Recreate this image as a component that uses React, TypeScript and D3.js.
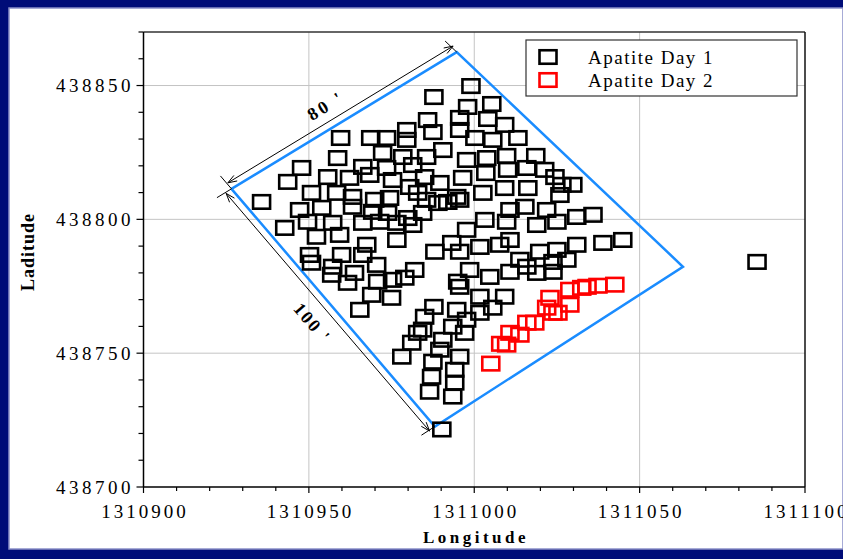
import React from "react";
import * as d3 from "d3";

const xDomain: [number, number] = [1310900, 1311100];
const yDomain: [number, number] = [438700, 438870];
const xTicks = [1310900, 1310950, 1311000, 1311050, 1311100];
const yTicks = [438700, 438750, 438800, 438850];
const gridX = [1310950, 1311000, 1311050];
const gridY = [438750, 438800, 438850];
const seriesNames = ["Apatite Day 1", "Apatite Day 2"];
const seriesColors = ["#000000", "#ff0000"];
const xTitle = "Longitude";
const yTitle = "Laditude";
const dimLabels = ["80 '", "100 '"];

// Apatite Day 1 : [longitude, latitude]
const day1: [number, number][] = [
  [1310999.0, 438849.8], [1310987.8, 438845.7], [1310998.0, 438842.0], [1311005.3, 438843.1],
  [1310985.9, 438837.1], [1310995.6, 438837.9], [1311004.1, 438837.5], [1311009.2, 438835.3],
  [1310979.6, 438833.4], [1310987.5, 438832.6], [1310995.6, 438833.4], [1310959.6, 438830.4],
  [1310968.7, 438830.4], [1310973.5, 438830.4], [1310979.6, 438829.7], [1311000.2, 438830.4],
  [1311005.6, 438829.7], [1311013.2, 438830.4], [1310990.5, 438825.9], [1310972.3, 438824.8],
  [1310958.7, 438822.9], [1310985.6, 438823.3], [1310978.4, 438823.3], [1310997.7, 438822.2],
  [1311003.8, 438822.9], [1311009.8, 438823.7], [1311018.6, 438823.7], [1310947.8, 438819.2],
  [1310966.3, 438819.6], [1310973.5, 438819.2], [1310981.4, 438820.3], [1311003.5, 438817.3],
  [1311010.1, 438818.5], [1311015.9, 438819.2], [1311021.3, 438818.5], [1311024.4, 438815.8],
  [1311026.5, 438812.9], [1311029.8, 438812.9], [1310996.5, 438815.5], [1310989.6, 438813.6],
  [1310985.0, 438815.8], [1310943.6, 438814.0], [1310955.7, 438815.8], [1310962.3, 438815.5],
  [1310968.4, 438816.6], [1310975.3, 438814.7], [1310980.5, 438812.1], [1311002.6, 438809.9],
  [1311009.2, 438811.7], [1311016.2, 438811.7], [1310994.7, 438808.4], [1310992.0, 438806.5],
  [1310935.7, 438806.5], [1310950.8, 438809.9], [1310958.4, 438809.9], [1310963.2, 438808.4],
  [1310969.9, 438807.3], [1310974.4, 438808.0], [1310985.6, 438807.3], [1310982.9, 438809.9],
  [1310989.0, 438806.1], [1310995.6, 438807.3], [1311025.9, 438809.1], [1310947.2, 438803.5],
  [1310953.9, 438804.3], [1310963.2, 438804.7], [1310969.3, 438802.8], [1310973.8, 438802.4],
  [1310984.4, 438802.4], [1311010.8, 438803.5], [1311015.3, 438804.7], [1311021.9, 438803.5],
  [1311031.0, 438800.9], [1311035.9, 438801.7], [1311003.2, 438799.8], [1310979.9, 438800.5],
  [1310942.7, 438796.8], [1310949.6, 438799.1], [1310957.2, 438798.7], [1310966.3, 438798.7],
  [1310971.4, 438799.1], [1310976.6, 438798.7], [1310981.4, 438797.9], [1311018.9, 438797.9],
  [1311025.0, 438799.1], [1311009.8, 438799.1], [1310997.7, 438796.1], [1310952.3, 438793.5],
  [1310959.3, 438794.2], [1310967.5, 438790.5], [1310976.6, 438792.3], [1310993.2, 438791.2],
  [1311010.8, 438792.3], [1311007.7, 438790.5], [1311038.9, 438791.2], [1311044.9, 438792.3],
  [1311031.0, 438790.5], [1311025.0, 438788.6], [1311001.7, 438789.7], [1310995.6, 438787.9],
  [1311019.8, 438787.9], [1311013.8, 438784.9], [1311023.8, 438784.1], [1311028.0, 438784.9],
  [1310988.1, 438787.9], [1310950.2, 438786.7], [1310950.8, 438783.8], [1310957.2, 438782.3],
  [1310959.9, 438786.7], [1310966.3, 438786.7], [1310970.5, 438783.0], [1310963.8, 438780.0],
  [1310956.9, 438779.3], [1310961.7, 438776.3], [1310970.8, 438776.7], [1310969.0, 438771.8],
  [1310975.0, 438770.7], [1310979.0, 438778.2], [1310982.0, 438781.1], [1310965.4, 438766.2],
  [1310987.8, 438767.3], [1310985.0, 438763.6], [1310982.9, 438757.6], [1310981.1, 438753.9],
  [1310978.1, 438748.7], [1310989.6, 438751.3], [1310987.1, 438741.2], [1310986.5, 438735.6],
  [1310990.2, 438721.5], [1310993.5, 438733.8], [1310994.1, 438739.0], [1310994.1, 438743.8],
  [1310987.5, 438746.8], [1310995.6, 438748.7], [1310990.5, 438755.0], [1310984.4, 438758.8],
  [1310993.5, 438759.9], [1310997.1, 438757.6], [1310997.7, 438762.5], [1310994.7, 438766.2],
  [1311001.7, 438765.1], [1311005.6, 438767.0], [1311001.7, 438771.1], [1311009.2, 438771.1],
  [1310995.6, 438774.8], [1310998.6, 438781.1], [1310995.0, 438776.7], [1311004.7, 438778.5],
  [1311010.8, 438780.4], [1311015.9, 438782.3], [1311018.9, 438780.0], [1311023.8, 438780.4],
  [1310975.3, 438777.4], [1311085.5, 438784.1],
];

// Apatite Day 2 : [longitude, latitude]
const day2: [number, number][] = [
  [1311005.0, 438746.1], [1311008.0, 438753.5], [1311009.8, 438753.2], [1311010.8, 438757.6],
  [1311013.8, 438756.9], [1311015.9, 438761.4], [1311018.3, 438761.4], [1311021.9, 438767.0],
  [1311023.8, 438765.1], [1311025.3, 438765.1], [1311022.9, 438770.7], [1311028.9, 438768.1],
  [1311028.9, 438773.7], [1311032.5, 438774.4], [1311034.1, 438774.8], [1311037.4, 438775.2],
  [1311042.5, 438775.6],
];

// Surveyed boundary (left, top, right, bottom corners)
const boundary: [number, number][] = [
  [1310926.6, 438811.4], [1310994.7, 438862.5], [1311063.1, 438782.3], [1310988.1, 438722.6],
];

const W = 843, H = 559;
const SERIF = "'Liberation Serif', 'Times New Roman', serif";
const MW = 17, MH = 13.5;

type Pt = [number, number];
const sub = (a: Pt, b: Pt): Pt => [a[0] - b[0], a[1] - b[1]];
const add = (a: Pt, b: Pt): Pt => [a[0] + b[0], a[1] + b[1]];
const mul = (a: Pt, k: number): Pt => [a[0] * k, a[1] * k];
const unit = (a: Pt, b: Pt): Pt => { const d = sub(b, a); const l = Math.hypot(d[0], d[1]); return [d[0] / l, d[1] / l]; };

function Arrow({ tip, dir }: { tip: Pt; dir: Pt }) {
  const perp: Pt = [-dir[1], dir[0]];
  const base = sub(tip, mul(dir, 9));
  const a = add(base, mul(perp, 3.2));
  const b = sub(base, mul(perp, 3.2));
  return <path d={`M${a[0]},${a[1]}L${tip[0]},${tip[1]}L${b[0]},${b[1]}`} fill="none" stroke="#000" strokeWidth={1} />;
}

export default function App() {
  const x = d3.scaleLinear().domain(xDomain).range([143.5, 805]);
  const y = d3.scaleLinear().domain(yDomain).range([487, 32]);
  const x0 = x(xDomain[0]), x1 = x(xDomain[1]);
  const y0 = y(yDomain[0]), y1 = y(yDomain[1]);
  const xMinor = d3.range(xDomain[0], xDomain[1] + 1, 10);
  const yMinor = d3.range(yDomain[0], yDomain[1] + 1, 10);

  const P = boundary.map(([a, b]) => [x(a), y(b)] as Pt);
  const [L, T, R, B] = P;
  const poly = d3.line()(P.concat([P[0]]) as any) as string;

  const u1 = unit(L, T);
  const n1: Pt = [u1[1], -u1[0]];
  const u2 = unit(L, B);
  const n2: Pt = [-u2[1], u2[0]];
  const off = 7;
  const d1a = add(L, mul(n1, off)), d1b = add(T, mul(n1, off));
  const d2a = add(L, mul(n2, off)), d2b = add(B, mul(n2, off));
  const ext1 = [L, add(L, mul(unit(B, L), 17))];
  const ext2 = [L, add(L, mul(unit(T, L), 17))];
  const ext3 = [T, add(T, mul(unit(R, T), 16))];
  const ext4 = [B, add(B, mul(unit(R, B), 16))];
  const m1 = add(mul(add(L, T), 0.5), add(mul(n1, 22), mul(u1, -8)));
  const m2 = add(mul(add(L, B), 0.5), add(mul(n2, 26), mul(u2, -2)));
  const a1 = (Math.atan2(u1[1], u1[0]) * 180) / Math.PI;
  const a2 = (Math.atan2(u2[1], u2[0]) * 180) / Math.PI;

  const rect = (p: [number, number], i: number, color: string) => (
    <rect key={i} x={x(p[0]) - MW / 2} y={y(p[1]) - MH / 2} width={MW} height={MH}
      fill="none" stroke={color} strokeWidth={2.6} />
  );

  return (
    <svg width={W} height={H} style={{ position: "fixed", left: 0, top: 0 }} fontFamily={SERIF}>
      <rect x={0} y={0} width={W} height={H} fill="#000c78" />
      <rect x={9} y={8} width={W - 9} height={541} fill="#ffffff" stroke="#8a8fc8" strokeWidth={1.5} />

      {gridX.map((v) => <line key={v} x1={x(v)} x2={x(v)} y1={y0} y2={y1} stroke="#c4c4c4" strokeWidth={1} />)}
      {gridY.map((v) => <line key={v} x1={x0} x2={x1} y1={y(v)} y2={y(v)} stroke="#c4c4c4" strokeWidth={1} />)}

      <line x1={x0} x2={x1} y1={y1} y2={y1} stroke="#333" strokeWidth={1.5} />
      <line x1={x1} x2={x1} y1={y1} y2={y0} stroke="#111" strokeWidth={1.5} />
      <line x1={x0} x2={x1} y1={y0} y2={y0} stroke="#000" strokeWidth={1.5} />
      <line x1={x0} x2={x0} y1={y0} y2={y1} stroke="#000" strokeWidth={1.5} />

      {xMinor.map((v) => {
        const major = xTicks.includes(v);
        return <line key={v} x1={x(v)} x2={x(v)} y1={y0} y2={y0 + (major ? 6 : 4)} stroke="#000" strokeWidth={1.2} />;
      })}
      {yMinor.map((v) => {
        const major = yTicks.includes(v);
        return <line key={v} x1={x0} x2={x0 - (major ? 7 : 5)} y1={y(v)} y2={y(v)} stroke="#000" strokeWidth={1.2} />;
      })}

      {xTicks.map((v) => (
        <text key={v} x={x(v) + 1.5} y={518} textAnchor="middle" fontSize={19} letterSpacing={3} fill="#000">{v}</text>
      ))}
      {yTicks.map((v) => (
        <text key={v} x={134} y={y(v) + 6.5} textAnchor="end" fontSize={19} letterSpacing={3.5} fill="#000">{v}</text>
      ))}

      <text x={476} y={543} textAnchor="middle" fontSize={17} fontWeight="bold" letterSpacing={3.5} fill="#000">{xTitle}</text>
      <text transform={`translate(34,252) rotate(-90)`} textAnchor="middle" fontSize={18} fontWeight="bold" letterSpacing={1} fill="#000">{yTitle}</text>

      {/* boundary */}
      <path d={poly} fill="none" stroke="#1a8cff" strokeWidth={2.5} strokeLinejoin="miter" />

      {/* dimension lines */}
      {[ext1, ext2, ext3, ext4].map((e, i) => (
        <line key={i} x1={e[0][0]} y1={e[0][1]} x2={e[1][0]} y2={e[1][1]} stroke="#000" strokeWidth={1} />
      ))}
      <line x1={d1a[0]} y1={d1a[1]} x2={d1b[0]} y2={d1b[1]} stroke="#000" strokeWidth={1} />
      <line x1={d2a[0]} y1={d2a[1]} x2={d2b[0]} y2={d2b[1]} stroke="#000" strokeWidth={1} />
      <Arrow tip={d1a} dir={mul(u1, -1)} />
      <Arrow tip={d1b} dir={u1} />
      <Arrow tip={d2a} dir={mul(u2, -1)} />
      <Arrow tip={d2b} dir={u2} />
      <text transform={`translate(${m1[0]},${m1[1]}) rotate(${a1})`} textAnchor="middle" dominantBaseline="central"
        fontSize={18} fontWeight="bold" letterSpacing={3}>{dimLabels[0]}</text>
      <text transform={`translate(${m2[0]},${m2[1]}) rotate(${a2})`} textAnchor="middle" dominantBaseline="central"
        fontSize={18} fontWeight="bold" letterSpacing={2}>{dimLabels[1]}</text>

      {/* points */}
      <g>{day1.map((p, i) => rect(p, i, seriesColors[0]))}</g>
      <g>{day2.map((p, i) => rect(p, i, seriesColors[1]))}</g>

      {/* legend */}
      <rect x={526} y={40} width={271} height={56} fill="#fff" stroke="#333" strokeWidth={1.2} />
      {seriesNames.map((s, i) => (
        <g key={s}>
          <rect x={548 - MW / 2} y={57 + i * 23 - MH / 2} width={MW} height={MH} fill="none" stroke={seriesColors[i]} strokeWidth={2.6} />
          <text x={588} y={64 + i * 23} fontSize={19} letterSpacing={1.5} fill="#000">{s}</text>
        </g>
      ))}
    </svg>
  );
}
